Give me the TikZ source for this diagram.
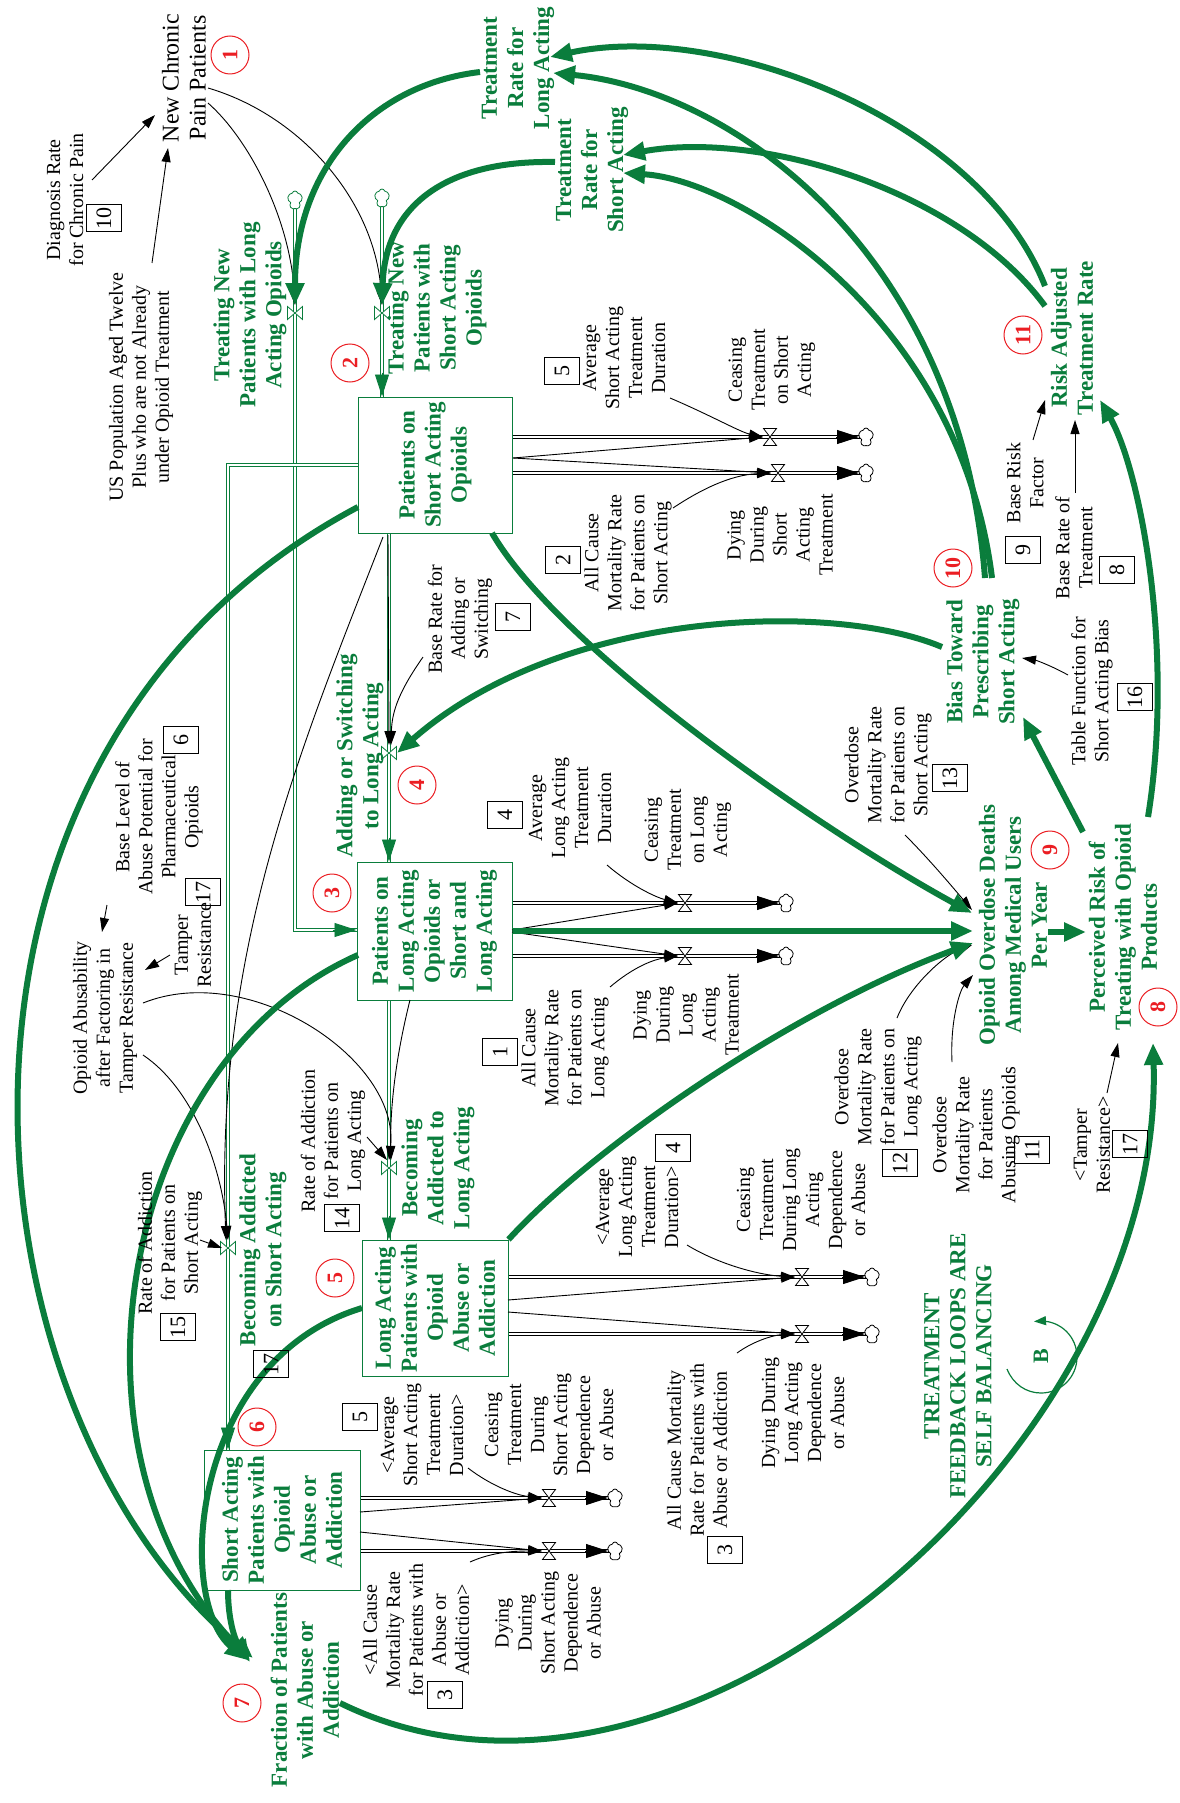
\documentclass[tikz,border=0pt]{standalone}
\usepackage{fontspec}
\setmainfont{Liberation Serif}
\usetikzlibrary{arrows.meta,shapes.symbols,calc}
\definecolor{myg}{RGB}{10,125,60}
\definecolor{myr}{RGB}{235,30,35}
\begin{document}
\begin{tikzpicture}[x=0.5pt,y=-0.5pt,
  lbl/.style={rotate=90,align=center,font=\fontsize{10}{11.5}\selectfont,inner sep=0pt},
  glbl/.style={rotate=90,align=center,text=myg,font=\fontsize{11.5}{13}\selectfont\bfseries,inner sep=0pt},
  nbox/.style={draw,line width=0.5pt,rotate=90,minimum width=13.5pt,minimum height=17.5pt,inner sep=0pt,font=\fontsize{11}{11}\selectfont},
  rnum/.style={circle,draw=myr,line width=0.5pt,minimum size=19pt,inner sep=0pt,text=myr,font=\fontsize{11}{11}\selectfont\bfseries,rotate=90},
  stock/.style={draw=myg,line width=0.5pt,inner sep=0pt},
  gpipe/.style={draw=myg,double=white,double distance=1.4pt,line width=0.45pt},
  bpipe/.style={draw=black,double=white,double distance=1.4pt,line width=0.45pt},
  gtip/.style={draw=myg,line width=0.45pt,-{Triangle[length=11pt,width=7pt]}},
  btip/.style={draw=black,line width=0.45pt,-{Triangle[length=11pt,width=7pt]}},
  iarr/.style={draw=black,line width=0.45pt,-{Triangle[length=7pt,width=4.5pt]}},
  garr/.style={draw=myg,line width=3pt,-{Triangle[length=11pt,width=9pt]}},
  cl/.style={cloud,cloud puffs=5,draw,fill=white,minimum width=7.5pt,minimum height=9pt,inner sep=0pt,line width=0.4pt},
  hv/.pic={\filldraw[fill=white,draw=black,line width=0.4pt] (-6.5,-8.5)--(6.5,-8.5)--(-6.5,8.5)--(6.5,8.5)--cycle;},
  vv/.pic={\filldraw[fill=white,draw=myg,line width=0.4pt] (-7.5,-6.5)--(-7.5,6.5)--(7.5,-6.5)--(7.5,6.5)--cycle;}
]
\fill[white] (0,0) rectangle (1179,1803);
\useasboundingbox (0,0) rectangle (1179,1803);

% ---------- stocks ----------
\node[stock,minimum width=77pt,minimum height=68pt] (s1) at (435,465) {};
\node[stock,minimum width=77.5pt,minimum height=69pt] (s2) at (434.5,931) {};
\node[stock,minimum width=73pt,minimum height=68pt] (s3) at (435,1308) {};
\node[stock,minimum width=78pt,minimum height=70pt] (s4) at (282,1520) {};

% ---------- valve and cloud positions ----------
\coordinate (v1) at (295,313);
\coordinate (v2) at (382,313);
\coordinate (v3) at (389,753);
\coordinate (v4) at (228,1248);
\coordinate (v5) at (389,1168);
\coordinate (o1) at (770,437);
\coordinate (o2) at (778,473);
\coordinate (o3) at (685,903);
\coordinate (o4) at (685,956);
\coordinate (o5) at (802,1277);
\coordinate (o6) at (802,1334);
\coordinate (o7) at (549,1498);
\coordinate (o8) at (549,1551);
\coordinate (c1) at (295,200);
\coordinate (c2) at (382,198);
\coordinate (c3) at (866,437);
\coordinate (c4) at (866,473);
\coordinate (c5) at (786,903);
\coordinate (c6) at (786,956);
\coordinate (c7) at (872,1277);
\coordinate (c8) at (872,1334);
\coordinate (c9) at (615,1498);
\coordinate (c10) at (615,1551);
\coordinate (k1) at (295,930);
\coordinate (k2) at (228,465);

% ---------- green pipes ----------
\draw[gpipe] (c1) -- (v1) -- (k1) -- (s2.west |- k1);
\draw[gtip] ([xshift=-12pt]s2.west |- k1) -- (s2.west |- k1);
\draw[gpipe] (c2) -- (v2) -- (s1.north -| v2);
\draw[gtip] ([yshift=12pt]s1.north -| v2) -- (s1.north -| v2);
\draw[gpipe] (s1.south -| v3) -- (v3) -- (s2.north -| v3);
\draw[gtip] ([yshift=12pt]s2.north -| v3) -- (s2.north -| v3);
\draw[gpipe] (s1.west |- k2) -- (k2) -- (v4) -- (s4.north -| k2);
\draw[gtip] ([yshift=12pt]s4.north -| k2) -- (s4.north -| k2);
\draw[gpipe] (s2.south -| v5) -- (v5) -- (s3.north -| v5);
\draw[gtip] ([yshift=12pt]s3.north -| v5) -- (s3.north -| v5);

% ---------- black pipes ----------
\draw[bpipe] (s1.east |- o1) -- (o1) -- (c3);
\draw[btip] ([xshift=-15pt]c3) -- ([xshift=-3.5pt]c3);
\draw[bpipe] (s1.east |- o2) -- (o2) -- (c4);
\draw[btip] ([xshift=-15pt]c4) -- ([xshift=-3.5pt]c4);
\draw[bpipe] (s2.east |- o3) -- (o3) -- (c5);
\draw[btip] ([xshift=-15pt]c5) -- ([xshift=-3.5pt]c5);
\draw[bpipe] (s2.east |- o4) -- (o4) -- (c6);
\draw[btip] ([xshift=-15pt]c6) -- ([xshift=-3.5pt]c6);
\draw[bpipe] (s3.east |- o5) -- (o5) -- (c7);
\draw[btip] ([xshift=-15pt]c7) -- ([xshift=-3.5pt]c7);
\draw[bpipe] (s3.east |- o6) -- (o6) -- (c8);
\draw[btip] ([xshift=-15pt]c8) -- ([xshift=-3.5pt]c8);
\draw[bpipe] (s4.east |- o7) -- (o7) -- (c9);
\draw[btip] ([xshift=-15pt]c9) -- ([xshift=-3.5pt]c9);
\draw[bpipe] (s4.east |- o8) -- (o8) -- (c10);
\draw[btip] ([xshift=-15pt]c10) -- ([xshift=-3.5pt]c10);

% ---------- valves ----------
\pic at (v1) {vv}; \pic at (v2) {vv}; \pic at (v3) {vv}; \pic at (v4) {vv}; \pic at (v5) {vv};
\pic at (o1) {hv}; \pic at (o2) {hv}; \pic at (o3) {hv}; \pic at (o4) {hv};
\pic at (o5) {hv}; \pic at (o6) {hv}; \pic at (o7) {hv}; \pic at (o8) {hv};

% ---------- clouds ----------
\node[cl,draw=myg] (cn1) at (c1) {};
\node[cl,draw=myg] (cn2) at (c2) {};
\node[cl] (cn3) at (c3) {};
\node[cl] (cn4) at (c4) {};
\node[cl] (cn5) at (c5) {};
\node[cl] (cn6) at (c6) {};
\node[cl] (cn7) at (c7) {};
\node[cl] (cn8) at (c8) {};
\node[cl] (cn9) at (c9) {};
\node[cl] (cn10) at (c10) {};

% ---------- thin information arrows ----------
\draw[iarr] (92,180) -- (155,115);
\draw[iarr] (152,263) -- (168,148);
\draw[iarr] (208,103) .. controls (250,140) and (290,220) .. ([yshift=4pt]v1);
\draw[iarr] (208,88) .. controls (300,115) and (375,200) .. ([yshift=4pt]v2);
\draw[iarr] (388,535) -- ([yshift=4pt]v3);
\draw[iarr] (423,657) .. controls (400,690) and (392,710) .. ([xshift=1pt,yshift=4pt]v3);
\draw[iarr] (383,537) .. controls (300,750) and (215,950) .. ([xshift=-1pt,yshift=4pt]v4);
\draw[iarr] (410,1000) .. controls (395,1060) and (390,1110) .. ([xshift=1pt,yshift=4pt]v5);
\draw[iarr] (143,1055) .. controls (195,1090) and (222,1170) .. ([yshift=4pt]v4);
\draw[iarr] (143,1003) .. controls (250,960) and (400,1060) .. ([yshift=4pt]v5);
\draw[iarr] (200,1240) -- ([xshift=-3pt]v4);
\draw[iarr] (367,1137) -- ([xshift=-1pt,yshift=4pt]v5);
\draw[iarr] (107,905) -- (102,932);
\draw[iarr] (170,955) -- (145,970);
\draw[iarr] (513,458) -- ([xshift=-3.5pt]o1);
\draw[iarr] (513,458) -- ([xshift=-3.5pt]o2);
\draw[iarr] (512,930) -- ([xshift=-3.5pt]o3);
\draw[iarr] (512,932) -- ([xshift=-3.5pt]o4);
\draw[iarr] (508,1300) -- ([xshift=-3.5pt]o5);
\draw[iarr] (508,1312) -- ([xshift=-3.5pt]o6);
\draw[iarr] (360,1512) -- ([xshift=-3.5pt]o7);
\draw[iarr] (360,1532) -- ([xshift=-3.5pt]o8);
\draw[iarr] (670,398) .. controls (710,415) and (740,432) .. ([xshift=-3.5pt]o1);
\draw[iarr] (673,508) .. controls (700,490) and (730,475) .. ([xshift=-3.5pt]o2);
\draw[iarr] (607,865) .. controls (630,885) and (655,897) .. ([xshift=-3.5pt]o3);
\draw[iarr] (610,987) .. controls (630,970) and (650,960) .. ([xshift=-3.5pt]o4);
\draw[iarr] (687,1245) .. controls (720,1265) and (760,1275) .. ([xshift=-3.5pt]o5);
\draw[iarr] (737,1353) .. controls (755,1340) and (775,1335) .. ([xshift=-3.5pt]o6);
\draw[iarr] (468,1468) .. controls (490,1485) and (515,1495) .. ([xshift=-3.5pt]o7);
\draw[iarr] (470,1562) .. controls (490,1553) and (510,1551) .. ([xshift=-3.5pt]o8);
\draw[iarr] (905,835) .. controls (930,860) and (955,890) .. (972,910);
\draw[iarr] (897,1018) .. controls (910,985) and (945,955) .. (972,945);
\draw[iarr] (952,1062) .. controls (950,1020) and (960,990) .. (973,975);
\draw[iarr] (1107,1093) -- (1118,1043);
\draw[iarr] (1068,675) .. controls (1050,665) and (1035,660) .. (1022,658);
\draw[iarr] (1033,440) -- (1045,400);
\draw[iarr] (1075,493) -- (1075,420);

% ---------- thick green feedback arrows ----------
\draw[garr] (480,72) .. controls (370,85) and (295,170) .. ([yshift=4pt]v1);
\draw[garr] (555,162) .. controls (440,160) and (385,210) .. ([yshift=4pt]v2);
\draw[garr] (1045,286) .. controls (980,120) and (720,20) .. (550,57);
\draw[garr] (1045,306) .. controls (960,190) and (760,130) .. (623,155);
\draw[garr] (985,578) .. controls (960,250) and (730,90) .. (553,73);
\draw[garr] (992,578) .. controls (960,320) and (740,180) .. (623,173);
\draw[garr] (942,647) .. controls (830,600) and (560,610) .. ([xshift=4pt]v3);
\draw[garr] (492,533) .. controls (560,650) and (820,830) .. (972,913);
\draw[garr] (s2.east) -- (973,931);
\draw[garr] (s3.north east) .. controls (590,1150) and (790,1010) .. (973,943);
\draw[garr] (1048,932) -- (1086,932);
\draw[garr] (1083,832) -- (1023,717);
\draw[garr] (1148,817) .. controls (1175,650) and (1140,470) .. (1100,400);
\draw[garr] (340,1703) .. controls (680,1870) and (1165,1450) .. (1153,1043);
\draw[garr] (358,507) .. controls (-100,750) and (-50,1400) .. (253,1658);
\draw[garr] (358,955) .. controls (120,1060) and (50,1450) .. (250,1660);
\draw[garr] (362,1308) .. controls (190,1360) and (175,1600) .. (247,1660);
\draw[garr] (228,1590) .. controls (228,1620) and (235,1640) .. (250,1662);

% ---------- loop symbol ----------
\draw[draw=myg,line width=0.6pt,-{Triangle[length=6pt,width=4.5pt]}] (1007,1369) .. controls (1013,1384) and (1026,1393) .. (1041,1393) .. controls (1061,1393) and (1077,1377) .. (1077,1357) .. controls (1077,1337) and (1061,1321) .. (1041,1321) -- (1034,1321.5);
\node[text=myg,font=\fontsize{11}{11}\selectfont\bfseries,rotate=90] (bl) at (1041,1356) {B};

% ---------- stock labels ----------
\node[glbl] (s1t) at (s1) {Patients on\\Short Acting\\Opioids};
\node[glbl] (s2t) at (s2) {Patients on\\Long Acting\\Opioids or\\Short and\\Long Acting};
\node[glbl] (s3t) at (s3) {Long Acting\\Patients with\\Opioid\\Abuse or\\Addiction};
\node[glbl] (s4t) at (s4) {Short Acting\\Patients with\\Opioid\\Abuse or\\Addiction};

% ---------- green labels ----------
\node[glbl] (g1) at (250,315) {Treating New\\Patients with Long\\Acting Opioids};
\node[glbl] (g2) at (437,308) {Treating New\\Patients with\\Short Acting\\Opioids};
\node[glbl] (g3) at (518,68) {Treatment\\Rate for\\Long Acting};
\node[glbl] (g4) at (592,170) {Treatment\\Rate for\\Short Acting};
\node[glbl] (g5) at (1072,338) {Risk Adjusted\\Treatment Rate};
\node[glbl] (g6) at (983,662) {Bias Toward\\Prescribing\\Short Acting};
\node[glbl] (g7) at (1013,925) {Opioid Overdose Deaths\\Among Medical Users\\Per Year};
\node[glbl] (g8) at (1123,927) {Perceived Risk of\\Treating with Opioid\\Products};
\node[glbl] (g9) at (360,756) {Adding or Switching\\to Long Acting};
\node[glbl] (g10) at (263,1250) {Becoming Addicted\\on Short Acting};
\node[glbl] (g11) at (438,1168) {Becoming\\Addicted to\\Long Acting};
\node[glbl] (g12) at (305,1690) {Fraction of Patients\\with Abuse or\\Addiction};
\node[glbl] (g13) at (958,1366) {TREATMENT\\FEEDBACK LOOPS ARE\\SELF BALANCING};

% ---------- black labels ----------
\node[lbl] (t1) at (65,200) {Diagnosis Rate\\for Chronic Pain};
\node[lbl] (t2) at (141,387) {US Population Aged Twelve\\Plus who are not Already\\under Opioid Treatment};
\node[lbl,font=\fontsize{12}{13.5}\selectfont] (t3) at (184,78) {New Chronic\\Pain Patients};
\node[lbl] (t4) at (624,358) {Average\\Short Acting\\Treatment\\Duration};
\node[lbl] (t5) at (772,370) {Ceasing\\Treatment\\on Short\\Acting};
\node[lbl] (t6) at (628,553) {All Cause\\Mortality Rate\\for Patients on\\Short Acting};
\node[lbl] (t7) at (780,535) {Dying\\During\\Short\\Acting\\Treatment};
\node[lbl] (t8) at (460,619) {Base Rate for\\Adding or\\Switching};
\node[lbl] (t9) at (570,808) {Average\\Long Acting\\Treatment\\Duration};
\node[lbl] (t10) at (688,830) {Ceasing\\Treatment\\on Long\\Acting};
\node[lbl] (t11) at (565,1048) {All Cause\\Mortality Rate\\for Patients on\\Long Acting};
\node[lbl] (t12) at (686,1015) {Dying\\During\\Long\\Acting\\Treatment};
\node[lbl] (t13) at (637,1207) {<Average\\Long Acting\\Treatment\\Duration>};
\node[lbl] (t14) at (801,1200) {Ceasing\\Treatment\\During Long\\Acting\\Dependence\\or Abuse};
\node[lbl] (t15) at (697,1450) {All Cause Mortality\\Rate for Patients with\\Abuse or Addiction};
\node[lbl] (t16) at (803,1413) {Dying During\\Long Acting\\Dependence\\or Abuse};
\node[lbl] (t17) at (422,1435) {<Average\\Short Acting\\Treatment\\Duration>};
\node[lbl] (t18) at (549,1425) {Ceasing\\Treatment\\During\\Short Acting\\Dependence\\or Abuse};
\node[lbl] (t19) at (416,1630) {<All Cause\\Mortality Rate\\for Patients with\\Abuse or\\Addiction>};
\node[lbl] (t20) at (548,1623) {Dying\\During\\Short Acting\\Dependence\\or Abuse};
\node[lbl] (t21) at (159,817) {Base Level of\\Abuse Potential for\\Pharmaceutical\\Opioids};
\node[lbl] (t22) at (193,945) {Tamper\\Resistance};
\node[lbl] (t23) at (105,1018) {Opioid Abusability\\after Factoring in\\Tamper Resistance};
\node[lbl] (t24) at (170,1243) {Rate of Addiction\\for Patients on\\Short Acting};
\node[lbl] (t25) at (333,1141) {Rate of Addiction\\for Patients on\\Long Acting};
\node[lbl] (t26) at (888,765) {Overdose\\Mortality Rate\\for Patients on\\Short Acting};
\node[lbl] (t27) at (878,1087) {Overdose\\Mortality Rate\\for Patients on\\Long Acting};
\node[lbl] (t28) at (976,1135) {Overdose\\Mortality Rate\\for Patients\\Abusing Opioids};
\node[lbl] (t29) at (1092,1145) {<Tamper\\Resistance>};
\node[lbl] (t30) at (1025,483) {Base Risk\\Factor};
\node[lbl] (t31) at (1074,548) {Base Rate of\\Treatment};
\node[lbl] (t32) at (1092,691) {Table Function for\\Short Acting Bias};

% ---------- number boxes ----------
\node[nbox] (n10) at (104,218) {10};
\node[nbox] (n5a) at (562,371) {5};
\node[nbox] (n2) at (563,560) {2};
\node[nbox] (n7) at (513,617) {7};
\node[nbox] (n4a) at (505,815) {4};
\node[nbox] (n1) at (500,1052) {1};
\node[nbox] (n4b) at (673,1148) {4};
\node[nbox] (n3a) at (725,1550) {3};
\node[nbox] (n5b) at (360,1417) {5};
\node[nbox] (n3b) at (445,1695) {3};
\node[nbox] (n6) at (181,740) {6};
\node[nbox] (n17a) at (203,892) {17};
\node[nbox] (n15) at (178,1327) {15};
\node[nbox] (n14) at (342,1218) {14};
\node[nbox] (n17b) at (271,1364) {17};
\node[nbox] (n13) at (950,778) {13};
\node[nbox] (n12) at (900,1163) {12};
\node[nbox] (n11) at (1032,1150) {11};
\node[nbox] (n17c) at (1130,1144) {17};
\node[nbox] (n9) at (1023,550) {9};
\node[nbox] (n8) at (1117,570) {8};
\node[nbox] (n16) at (1135,697) {16};

% ---------- red loop numbers ----------
\node[rnum] (r1) at (230,55) {1};
\node[rnum] (r2) at (350,363) {2};
\node[rnum] (r3) at (332,893) {3};
\node[rnum] (r4) at (417,785) {4};
\node[rnum] (r5) at (335,1278) {5};
\node[rnum] (r6) at (257,1427) {6};
\node[rnum] (r7) at (242,1703) {7};
\node[rnum] (r8) at (1158,1007) {8};
\node[rnum] (r9) at (1050,850) {9};
\node[rnum] (r10) at (953,568) {10};
\node[rnum] (r11) at (1023,335) {11};
\end{tikzpicture}
\end{document}
